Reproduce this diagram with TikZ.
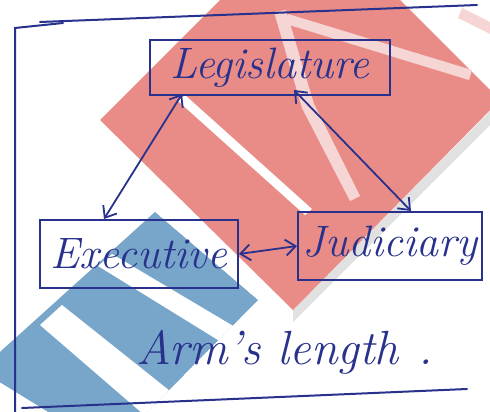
\documentclass[tikz,border=0pt]{standalone}
\usetikzlibrary{arrows.meta}
\definecolor{ink}{RGB}{40,50,140}
\definecolor{wmred}{RGB}{233,140,136}
\definecolor{wmpale}{RGB}{246,214,212}
\definecolor{wmblue}{RGB}{120,165,202}
\definecolor{wmgray}{RGB}{225,225,225}
\tikzset{
  boxnode/.style={draw=ink, line width=2pt, text=ink, inner sep=0pt,
    font=\fontsize{44}{50}\selectfont\itshape},
  link/.style={draw=ink, line width=1.8pt, {Straight Barb[length=10pt,width=16pt]}-{Straight Barb[length=10pt,width=16pt]}},
  frame/.style={draw=ink, line width=2pt, line cap=round},
  label/.style={text=ink, font=\fontsize{48}{54}\selectfont\itshape}
}
\begin{document}
\begin{tikzpicture}[x=1pt,y=-1pt]
\useasboundingbox (0,0) rectangle (490,412);
\fill[white] (0,0) rectangle (490,412);
\begin{scope}
  \clip (0,0) rectangle (490,412);
  % watermark: red diamond
  \fill[wmgray] (293,322) -- (505,110) -- (505,96) -- (293,310) -- cycle;
  \fill[wmred] (100,120) -- (310,-90) -- (500,100) -- (293,310) -- cycle;
  \fill[white] (178,101) -- (185,95) -- (312,209) -- (305,215) -- cycle;
  \fill[wmpale] (288,14) -- (472,70) -- (469,80) -- (286,24) -- cycle;
  \fill[wmpale] (274,12) -- (286,10) -- (314,104) -- (360,196) -- (350,201) -- (302,108) -- cycle;
  \fill[wmpale] (462,8) -- (490,22) -- (490,34) -- (458,18) -- cycle;
  % watermark: blue diamond
  \begin{scope}
    \clip (-20,370) -- (155,212) -- (258,300) -- (110,450) -- cycle;
    \fill[wmblue] (-20,370) -- (155,212) -- (258,300) -- (110,450) -- cycle;
    \fill[white] (98,266) -- (112,254) -- (240,330) -- (226,345) -- cycle;
    \fill[white] (40,325) -- (62,305) -- (175,395) -- (150,420) -- cycle;
  \end{scope}
\end{scope}

% outer frame
\coordinate (fTL) at (15,28);
\coordinate (fTL2) at (63,23);
\coordinate (fT1) at (40,22);
\coordinate (fT2) at (477,5);
\coordinate (fBL) at (15,412);
\coordinate (fB1) at (22,408);
\coordinate (fB2) at (467,389);
\draw[frame] (fTL2) -- (fTL) -- (fBL);
\draw[frame] (fT1) -- (fT2);
\draw[frame] (fB1) -- (fB2);

% boxes
\node[boxnode, minimum width=240pt, minimum height=55pt] (L) at (270,67.5) {Legislature};
\node[boxnode, minimum width=198pt, minimum height=68pt] (E) at (139,254) {Executive};
\node[boxnode, minimum width=184pt, minimum height=68pt] (J) at (390,246) {Judiciary};

% connectors
\draw[link] ([xshift=33pt,yshift=2pt]L.south west) -- ([xshift=65pt]E.north west);
\draw[link] ([xshift=145pt,yshift=6pt]L.south west) -- ([xshift=114pt]J.north west);
\draw[link] (E.east) -- (J.west);

% caption
\node[label] (A) at (285,352) {Arm's length\hspace{20pt}.};
\end{tikzpicture}
\end{document}
